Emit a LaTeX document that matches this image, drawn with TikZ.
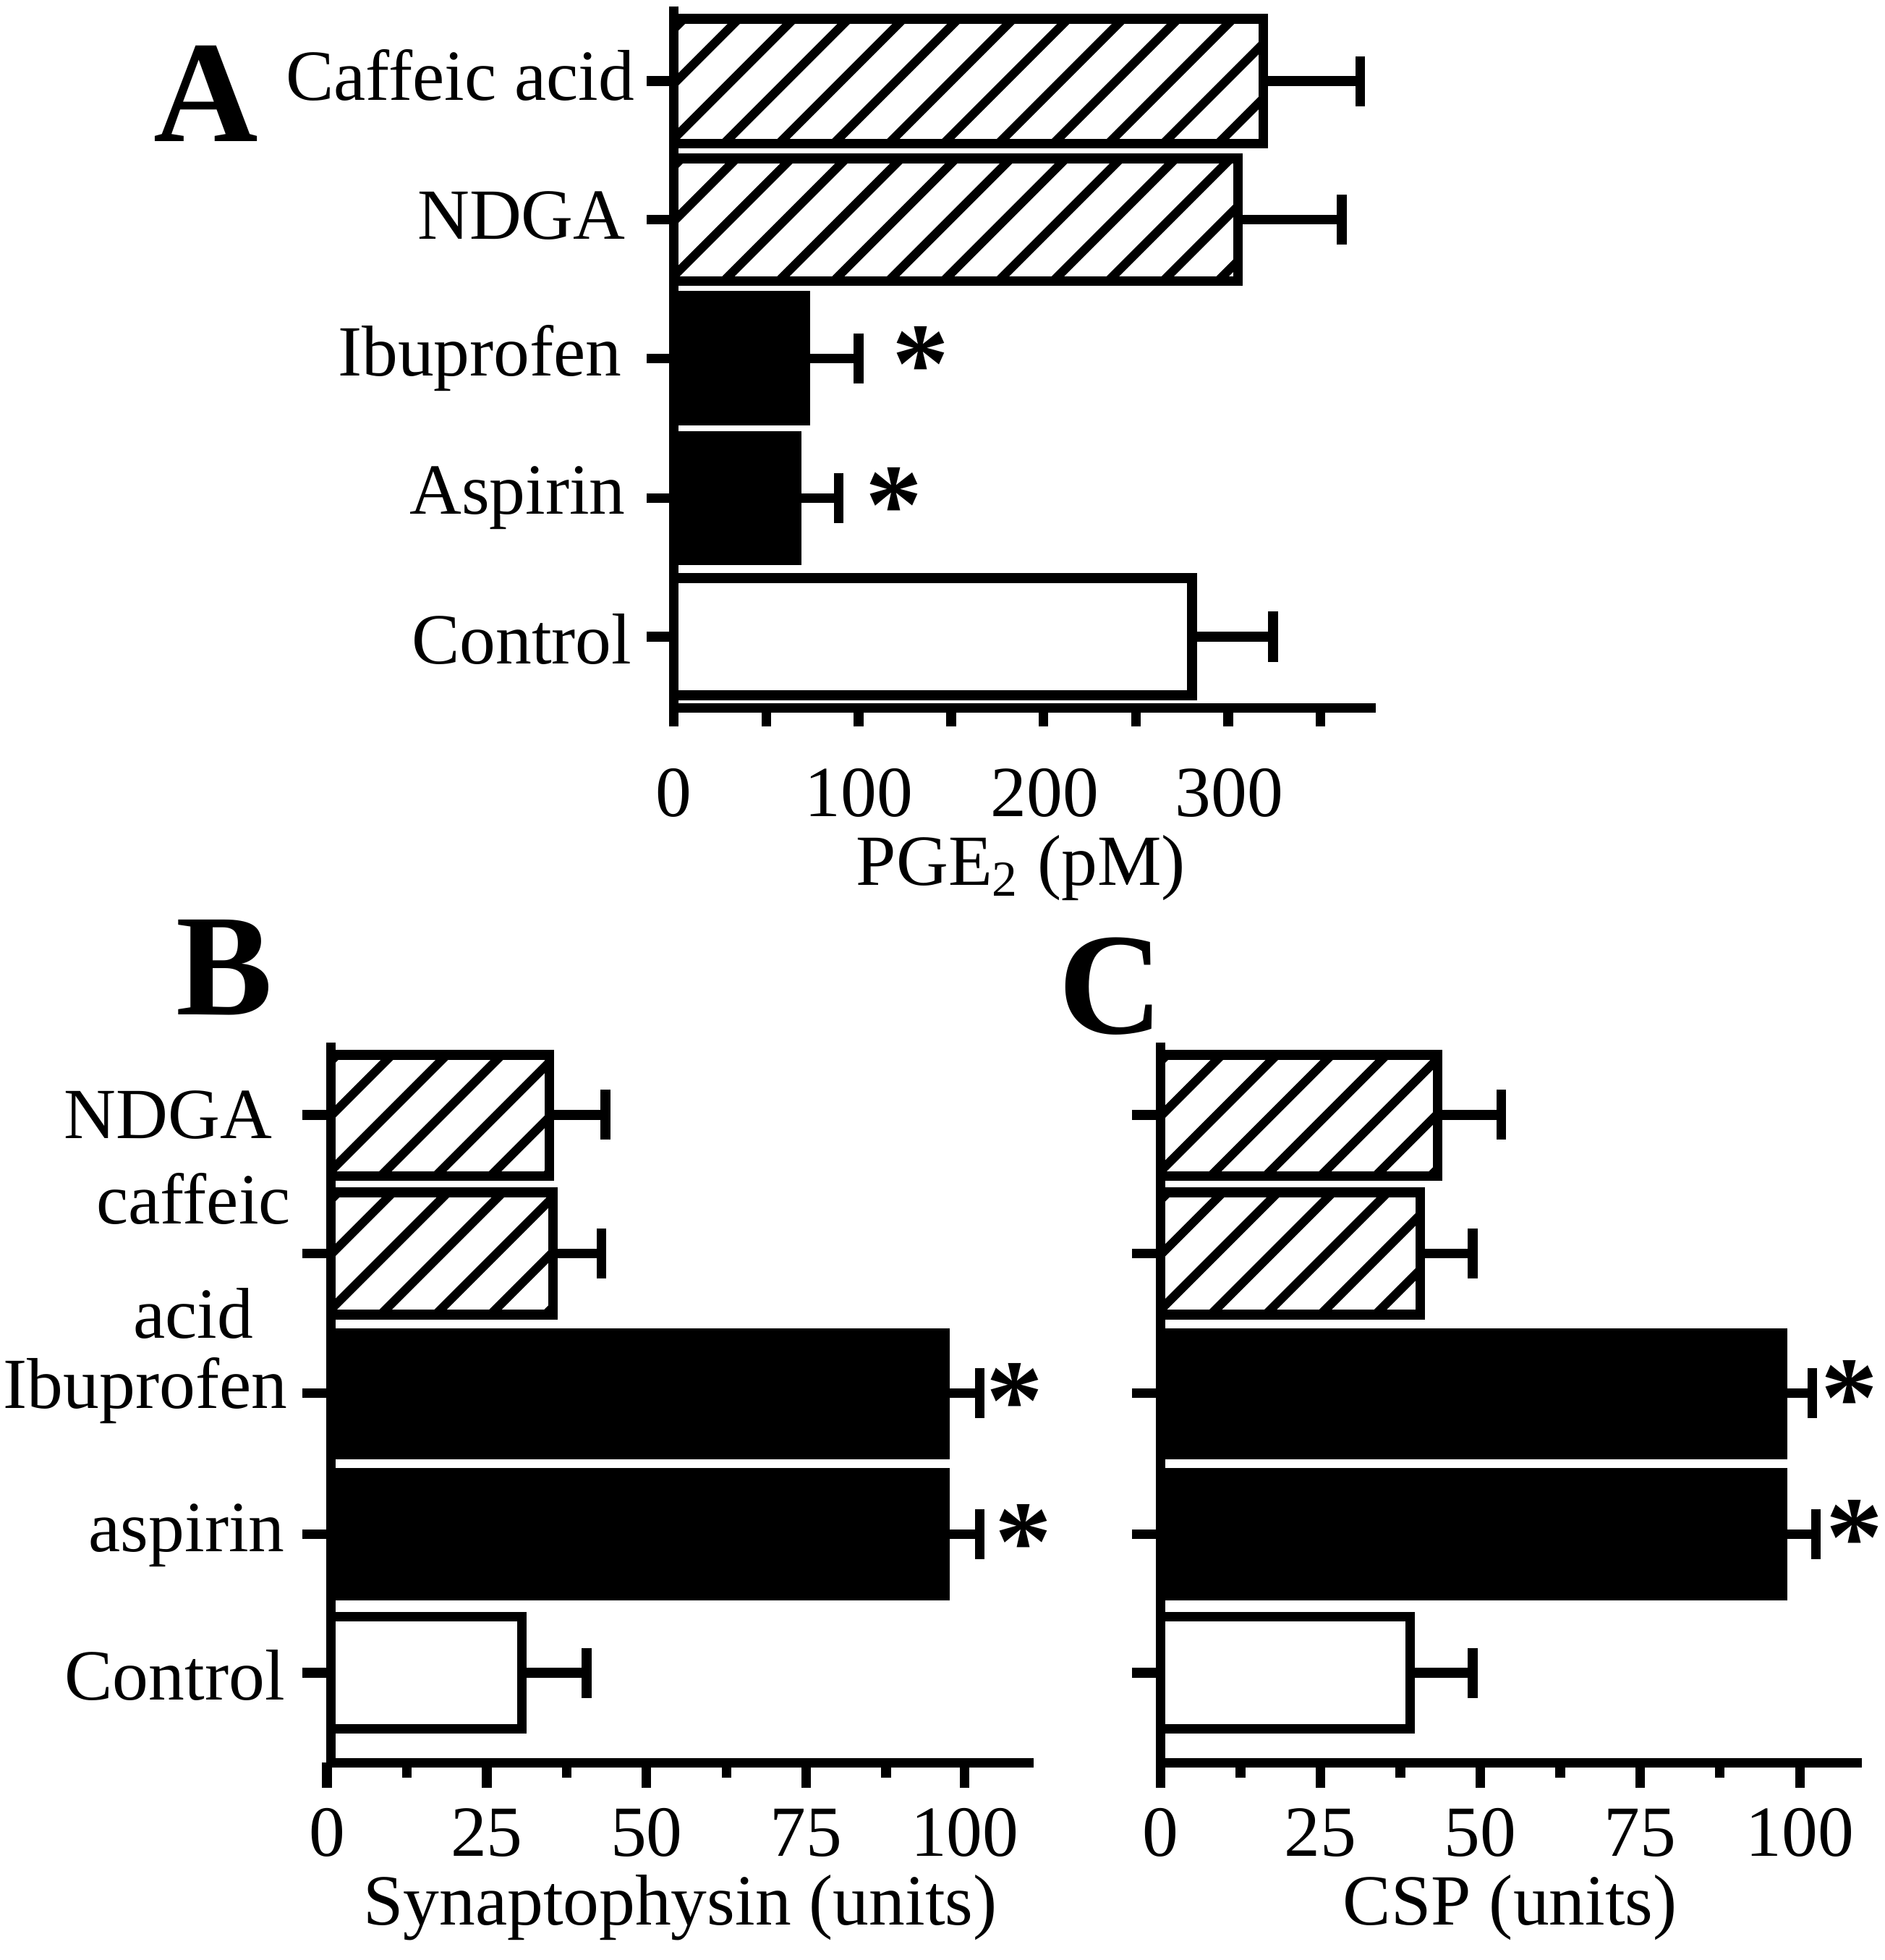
\documentclass[tikz,border=0pt]{standalone}
\usepackage{fontspec}
\setmainfont{Liberation Serif}
\begin{document}
\begin{tikzpicture}[x=0.01cm,y=-0.01cm,line width=2.2pt,
  lab/.style={font=\fontsize{16.4}{19}\selectfont,inner sep=0pt},
  big/.style={font=\fontsize{33}{36}\selectfont\bfseries,inner sep=0pt},
  star/.style={font=\fontsize{26}{26}\selectfont\bfseries,inner sep=0pt}]
\useasboundingbox (0,0) rectangle (1510,1570);
% hatched bar: x0,y0,x1,y1
\newcommand{\hatchbar}[4]{%
  \begin{scope}\clip (#1,#2) rectangle (#3,#4);
  \foreach \k in {-400,-356,...,800}{\draw[line width=2pt] (#1+\k,#4) -- (#1+\k+#4-#2,#2);}
  \end{scope}
  \draw (#1,#2) rectangle (#3,#4);}
\newcommand{\errbar}[4]{% xend, ymid, xerr, dummy
  \draw (#1,#2) -- (#3,#2); \draw (#3,#2-20) -- (#3,#2+20);}
% ===== Panel A =====
\node[big] (A) at (165,75) {A};
\hatchbar{540}{15}{1012}{115} \errbar{1012}{65}{1090}{}
\hatchbar{540}{127}{992}{225} \errbar{992}{176}{1075}{}
\fill (540,237) rectangle (645,337); \draw (540,237) rectangle (645,337); \errbar{645}{287}{688}{}
\fill (540,349) rectangle (638,449); \draw (540,349) rectangle (638,449); \errbar{638}{399}{672}{}
\draw (540,463) rectangle (955,557); \errbar{955}{510}{1020}{}
\node[star] (sa1) at (738,292) {*};
\node[star] (sa2) at (716,405) {*};
\draw (540,5) -- (540,567) -- (1102,567);
\foreach \y in {65,176,287,399,510}{\draw (518,\y) -- (540,\y);}
\foreach \x in {540,614,...,1060}{\draw (\x,567) -- (\x,582);}
\node[lab,anchor=east] (a1) at (512,60) {Caffeic acid};
\node[lab,anchor=east] (a2) at (505,173) {NDGA};
\node[lab,anchor=east] (a3) at (502,287) {Ibuprofen};
\node[lab,anchor=east] (a4) at (505,399) {Aspirin};
\node[lab,anchor=east] (a5) at (510,512) {Control};
\foreach \x/\t in {540/0,688/100,837/200,985/300}{\node[lab] at (\x,635) {\t};}
\node[lab] (at) at (818,695) {PGE\textsubscript{2} (pM)};
% ===== Panel B =====
\node[big] (B) at (180,775) {B};
\hatchbar{265}{845}{440}{942} \errbar{440}{893}{485}{}
\hatchbar{265}{955}{443}{1053} \errbar{443}{1004}{482}{}
\fill (265,1068) rectangle (757,1165); \draw (265,1068) rectangle (757,1165); \errbar{757}{1116}{785}{}
\fill (265,1180) rectangle (757,1278); \draw (265,1180) rectangle (757,1278); \errbar{757}{1229}{785}{}
\draw (265,1295) rectangle (418,1385); \errbar{418}{1340}{470}{}
\node[star] (sb1) at (813,1122) {*};
\node[star] (sb2) at (820,1235) {*};
\draw (265,835) -- (265,1412); \draw (262,1412) -- (828,1412);
\foreach \y in {893,1004,1116,1229,1340}{\draw (242,\y) -- (265,\y);}
\foreach \x in {262,390,518,646,773}{\draw (\x,1412) -- (\x,1432);}
\foreach \x in {326,454,582,710}{\draw (\x,1412) -- (\x,1424);}
\node[lab,anchor=east] (b1) at (222,893) {NDGA};
\node[lab,align=center,font=\fontsize{16.4}{26}\selectfont] (b2) at (155,1006) {caffeic\\acid};
\node[lab,anchor=east] (b3) at (234,1114) {Ibuprofen};
\node[lab,anchor=east] (b4) at (232,1230) {aspirin};
\node[lab,anchor=east] (b5) at (232,1342) {Control};
\foreach \x/\t in {262/0,390/25,518/50,646/75,773/100}{\node[lab] at (\x,1468) {\t};}
\node[lab] (bt) at (545,1528) {Synaptophysin (units)};
% ===== Panel C =====
\node[big] (C) at (890,790) {C};
\hatchbar{930}{845}{1152}{942} \errbar{1152}{893}{1203}{}
\hatchbar{930}{955}{1138}{1053} \errbar{1138}{1004}{1180}{}
\fill (930,1068) rectangle (1428,1165); \draw (930,1068) rectangle (1428,1165); \errbar{1428}{1116}{1452}{}
\fill (930,1180) rectangle (1428,1278); \draw (930,1180) rectangle (1428,1278); \errbar{1428}{1229}{1455}{}
\draw (930,1295) rectangle (1130,1385); \errbar{1130}{1340}{1180}{}
\node[star] (sc1) at (1482,1120) {*};
\node[star] (sc2) at (1486,1232) {*};
\draw (930,835) -- (930,1412); \draw (927,1412) -- (1492,1412);
\foreach \y in {893,1004,1116,1229,1340}{\draw (907,\y) -- (930,\y);}
\foreach \x in {930,1058,1186,1314,1442}{\draw (\x,1412) -- (\x,1432);}
\foreach \x in {994,1122,1250,1378}{\draw (\x,1412) -- (\x,1424);}
\foreach \x/\t in {930/0,1058/25,1186/50,1314/75,1442/100}{\node[lab] at (\x,1468) {\t};}
\node[lab] (ct) at (1210,1528) {CSP (units)};
\end{tikzpicture}
\end{document}
